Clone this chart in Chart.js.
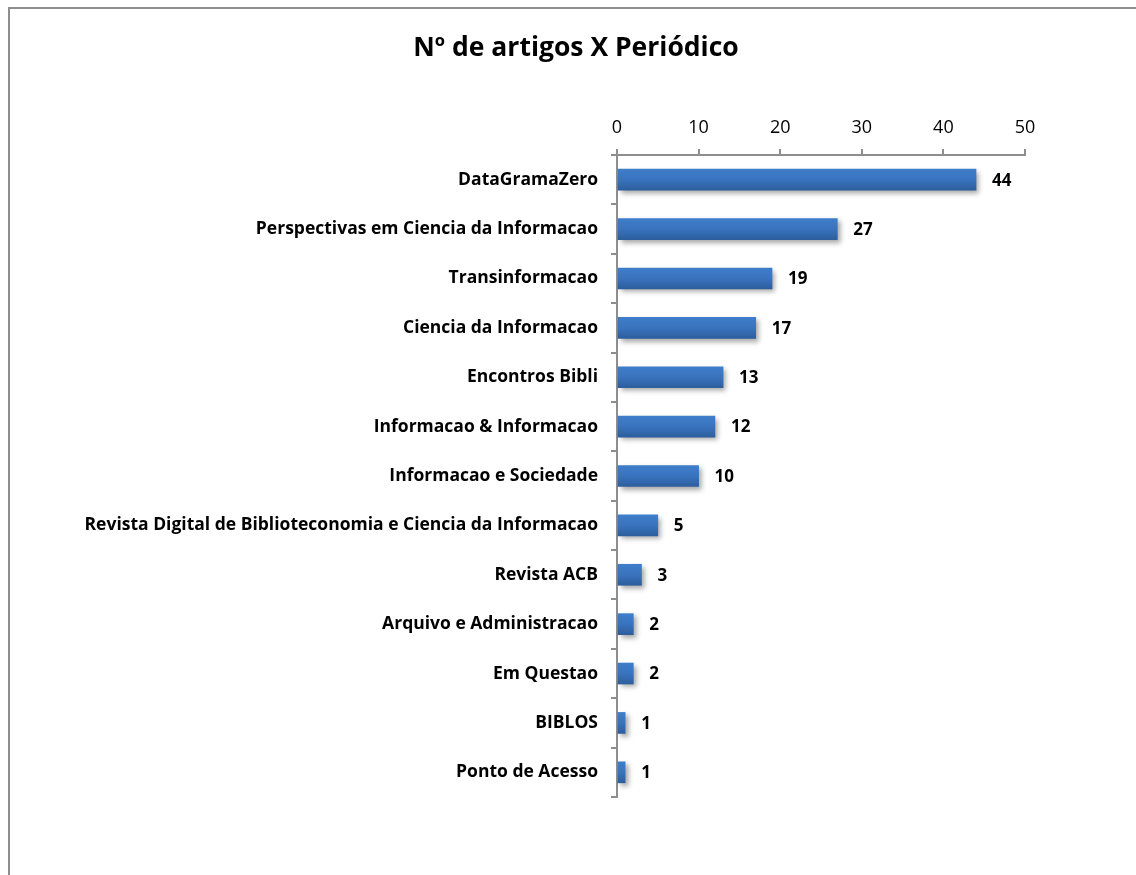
<!DOCTYPE html>
<html>
<head>
<meta charset="utf-8">
<script src="https://cdn.jsdelivr.net/npm/chart.js@4"></script>
<style>
  html, body { margin: 0; padding: 0; background: #fff; overflow: hidden; }
  #wrap { position: relative; width: 1136px; height: 875px; overflow: hidden; }
  #frame {
    position: absolute; left: 8px; top: 7px; width: 1140px; height: 880px;
    border-left: 2px solid #8e8e8e; border-top: 2px solid #8e8e8e;
  }
  #chart-bar { position: absolute; left: 0; top: 0; }
</style>
</head>
<body>
<div id="wrap">
  <div id="frame"></div>
  <canvas id="chart-bar" width="1136" height="875"></canvas>
</div>
<script>
  /*  ---- DATA ----  */
  const periodicos = [
    "DataGramaZero",
    "Perspectivas em Ciencia da Informacao",
    "Transinformacao",
    "Ciencia da Informacao",
    "Encontros Bibli",
    "Informacao & Informacao",
    "Informacao e Sociedade",
    "Revista Digital de Biblioteconomia e Ciencia da Informacao",
    "Revista ACB",
    "Arquivo e Administracao",
    "Em Questao",
    "BIBLOS",
    "Ponto de Acesso",
  ];
  const artigos = [44, 27, 19, 17, 13, 12, 10, 5, 3, 2, 2, 1, 1];
  const tituloGrafico = "Nº de artigos X Periódico";
  const eixoMin = 0, eixoMax = 50, eixoPasso = 10;

  const FONT = "'Open Sans', sans-serif";

  // gradiente vertical por barra (claro em cima, escuro embaixo)
  function barGradient(context) {
    const chart = context.chart;
    const { ctx, chartArea, scales } = chart;
    if (!chartArea || !scales.y) return "#3a72bd";
    const yc = scales.y.getPixelForValue(context.dataIndex);
    const g = ctx.createLinearGradient(0, yc - 11, 0, yc + 11);
    g.addColorStop(0, "#3f7ecb");
    g.addColorStop(0.5, "#3973be");
    g.addColorStop(1, "#2c5d9b");
    return g;
  }

  // sombra das barras
  const shadowPlugin = {
    id: "barShadow",
    beforeDatasetDraw(chart) {
      const ctx = chart.ctx;
      ctx.save();
      ctx.shadowColor = "rgba(0,0,0,0.35)";
      ctx.shadowBlur = 5;
      ctx.shadowOffsetX = 3;
      ctx.shadowOffsetY = 3;
    },
    afterDatasetDraw(chart) {
      chart.ctx.restore();
    },
  };

  // rótulos de valor à direita das barras + título
  const valueLabels = {
    id: "valueLabels",
    afterDatasetsDraw(chart) {
      const ctx = chart.ctx;
      const meta = chart.getDatasetMeta(0);
      ctx.save();
      ctx.font = "bold 17px " + FONT;
      ctx.fillStyle = "#000";
      ctx.textAlign = "left";
      ctx.textBaseline = "middle";
      meta.data.forEach((bar, i) => {
        ctx.fillText(String(artigos[i]), bar.x + 16, bar.y + 1);
      });

      // título
      ctx.font = "bold 26.5px " + FONT;
      ctx.textAlign = "center";
      ctx.fillText(tituloGrafico, 576, 48);
      ctx.restore();
    },
  };

  const ctx = document.getElementById("chart-bar").getContext("2d");

  new Chart(ctx, {
    type: "bar",
    data: {
      labels: periodicos,
      datasets: [
        {
          data: artigos,
          backgroundColor: barGradient,
          borderWidth: 0,
          barThickness: 21,
        },
      ],
    },
    options: {
      indexAxis: "y",
      responsive: false,
      animation: false,
      plugins: {
        legend: { display: false },
        tooltip: { enabled: false },
        title: { display: false },
      },
      layout: {
        padding: { top: 82, bottom: 78, left: 0, right: 111 },
      },
      scales: {
        x: {
          position: "top",
          min: eixoMin,
          max: eixoMax,
          grid: {
            drawOnChartArea: false,
            drawTicks: true,
            tickLength: 6,
            color: "#8e8e8e",
            lineWidth: 2,
          },
          border: { color: "#8e8e8e", width: 2 },
          ticks: {
            stepSize: eixoPasso,
            color: "#000",
            padding: 10,
            font: { family: FONT, size: 18 },
          },
          afterFit(scale) {
            scale.height = 155 - 82;
          },
        },
        y: {
          grid: {
            offset: true,
            drawOnChartArea: false,
            drawTicks: true,
            tickLength: 6,
            color: "#8e8e8e",
            lineWidth: 2,
          },
          border: { color: "#8e8e8e", width: 2 },
          ticks: {
            color: "#000",
            padding: 13,
            autoSkip: false,
            font: { family: FONT, size: 17.5, weight: "bold" },
          },
          afterFit(scale) {
            scale.width = 617;
          },
        },
      },
    },
    plugins: [shadowPlugin, valueLabels],
  });
</script>
</body>
</html>
